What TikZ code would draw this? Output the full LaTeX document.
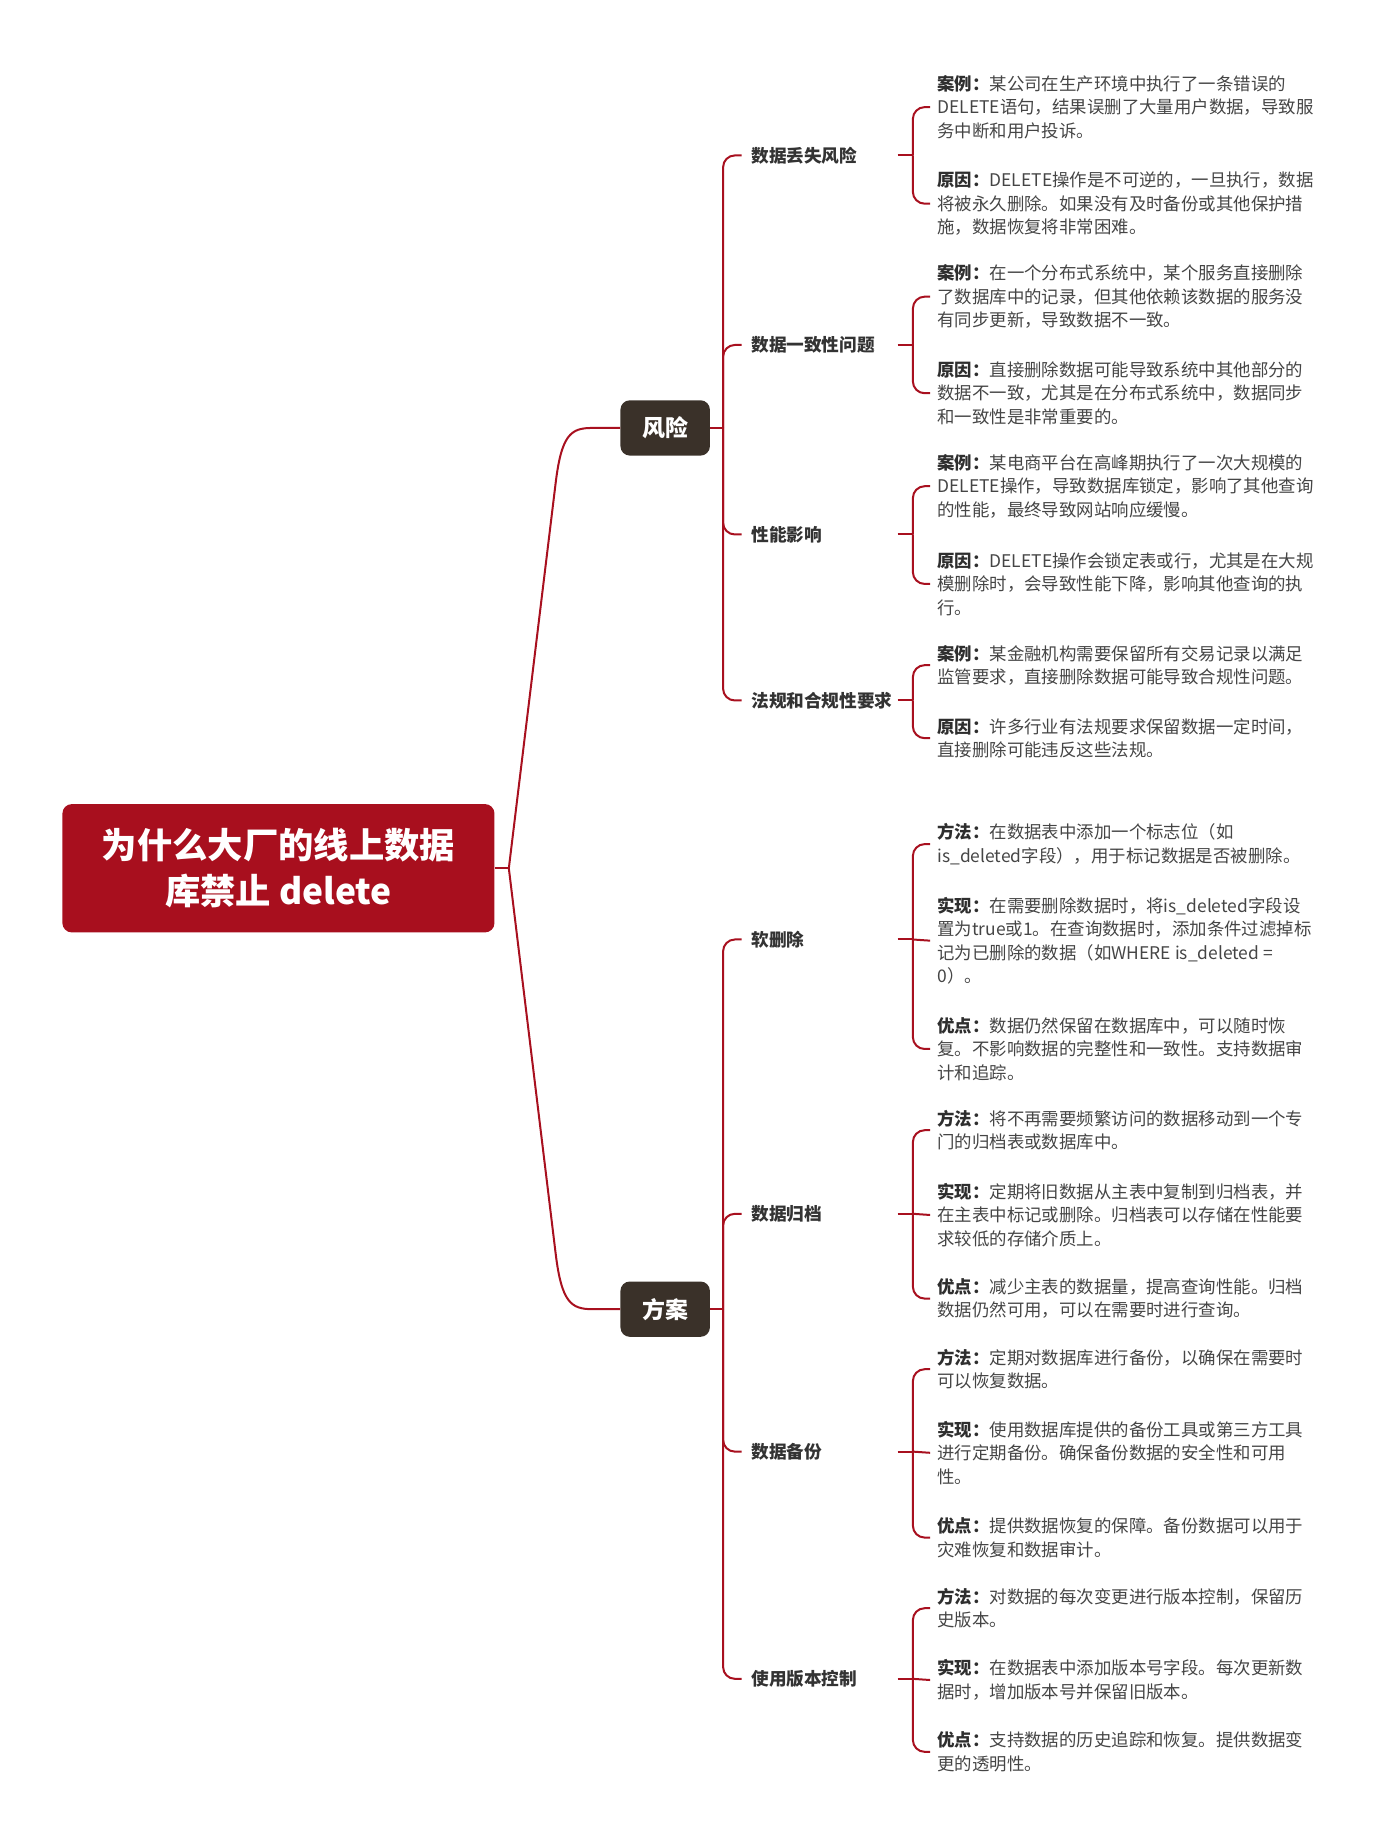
\documentclass[tikz,border=0pt]{standalone}
\usepackage{fontspec}
\setmainfont{Noto Sans CJK SC}
\usetikzlibrary{calc}
\definecolor{linered}{HTML}{A8101F}
\definecolor{rootred}{HTML}{A80F1E}
\definecolor{brdark}{HTML}{3A3129}
\definecolor{itemtxt}{HTML}{333333}
\definecolor{leaftxt}{HTML}{454545}
\definecolor{lbl}{HTML}{2E2E2E}
\newcommand\lb[1]{{\bfseries\color{lbl}#1}}
\tikzset{
  conn/.style={draw=linered, line width=1.7pt},
  bconn/.style={draw=linered, line width=1.7pt, rounded corners=10pt},
  rootbox/.style={fill=rootred, rounded corners=8pt, minimum width=367pt, minimum height=109pt, text=white, font=\bfseries\fontsize{30}{39}\selectfont, align=center, inner sep=0pt},
  branchbox/.style={fill=brdark, rounded corners=8pt, minimum width=76pt, minimum height=47pt, text=white, font=\bfseries\fontsize{19.5}{24}\selectfont, inner sep=0pt},
  itemlbl/.style={anchor=west, text=itemtxt, font=\bfseries\fontsize{15}{18}\selectfont, inner sep=0pt, text width=124pt, align=left},
  leaf/.style={anchor=west, text=leaftxt, font=\fontsize{14.8}{20}\selectfont, align=left, inner sep=0pt},
}
\begin{document}
\begin{tikzpicture}[x=1pt,y=-1pt]
\useasboundingbox (0,0) rectangle (1174,1568);
% root and branches
\node[rootbox] (root) at (236.5,737.5) {为什么大厂的线上数据\\库禁止 delete};
\node[branchbox] (risk) at (565,363.5) {风险};
\node[branchbox] (sol) at (565,1112) {方案};
\draw[conn] (root.east) -- ++(12,0) coordinate (rootj);
\draw[conn] (rootj) -- (472,410) .. controls (477,369) and (485,363.5) .. (503,363.5) -- (risk.west);
\draw[conn] (rootj) -- (472,1065) .. controls (477,1106) and (485,1112) .. (503,1112) -- (sol.west);
% risk items
\node[itemlbl] (r1) at (638,132) {数据丢失风险};
\node[itemlbl] (r2) at (638,293) {数据一致性问题};
\node[itemlbl] (r3) at (638,454) {性能影响};
\node[itemlbl] (r4) at (638,595) {法规和合规性要求};
\draw[conn] (risk.east) -- ++(11,0) coordinate (riskj);
\foreach \n in {r1,r2,r3,r4}{\draw[bconn] (riskj) |- ($(\n.west)+(-8,0)$);}
% solution items
\node[itemlbl] (s1) at (638,798) {软删除};
\node[itemlbl] (s2) at (638,1031) {数据归档};
\node[itemlbl] (s3) at (638,1233) {数据备份};
\node[itemlbl] (s4) at (638,1426) {使用版本控制};
\draw[conn] (sol.east) -- ++(11,0) coordinate (solj);
\foreach \n in {s1,s2,s3,s4}{\draw[bconn] (solj) |- ($(\n.west)+(-8,0)$);}
% risk leaves
\node[leaf] (r1a) at (796,91) {\lb{案例：}某公司在生产环境中执行了一条错误的\\DELETE语句，结果误删了大量用户数据，导致服\\务中断和用户投诉。};
\node[leaf] (r1b) at (796,173) {\lb{原因：}DELETE操作是不可逆的，一旦执行，数据\\将被永久删除。如果没有及时备份或其他保护措\\施，数据恢复将非常困难。};
\node[leaf] (r2a) at (796,252) {\lb{案例：}在一个分布式系统中，某个服务直接删除\\了数据库中的记录，但其他依赖该数据的服务没\\有同步更新，导致数据不一致。};
\node[leaf] (r2b) at (796,334) {\lb{原因：}直接删除数据可能导致系统中其他部分的\\数据不一致，尤其是在分布式系统中，数据同步\\和一致性是非常重要的。};
\node[leaf] (r3a) at (796,413) {\lb{案例：}某电商平台在高峰期执行了一次大规模的\\DELETE操作，导致数据库锁定，影响了其他查询\\的性能，最终导致网站响应缓慢。};
\node[leaf] (r3b) at (796,496) {\lb{原因：}DELETE操作会锁定表或行，尤其是在大规\\模删除时，会导致性能下降，影响其他查询的执\\行。};
\node[leaf] (r4a) at (796,565) {\lb{案例：}某金融机构需要保留所有交易记录以满足\\监管要求，直接删除数据可能导致合规性问题。};
\node[leaf] (r4b) at (796,627) {\lb{原因：}许多行业有法规要求保留数据一定时间，\\直接删除可能违反这些法规。};
% solution leaves
\node[leaf] (s1a) at (796,717) {\lb{方法：}在数据表中添加一个标志位（如\\is\_deleted字段），用于标记数据是否被删除。};
\node[leaf] (s1b) at (796,799) {\lb{实现：}在需要删除数据时，将is\_deleted字段设\\置为true或1。在查询数据时，添加条件过滤掉标\\记为已删除的数据（如WHERE is\_deleted =\\0）。};
\node[leaf] (s1c) at (796,891) {\lb{优点：}数据仍然保留在数据库中，可以随时恢\\复。不影响数据的完整性和一致性。支持数据审\\计和追踪。};
\node[leaf] (s2a) at (796,960) {\lb{方法：}将不再需要频繁访问的数据移动到一个专\\门的归档表或数据库中。};
\node[leaf] (s2b) at (796,1032) {\lb{实现：}定期将旧数据从主表中复制到归档表，并\\在主表中标记或删除。归档表可以存储在性能要\\求较低的存储介质上。};
\node[leaf] (s2c) at (796,1103) {\lb{优点：}减少主表的数据量，提高查询性能。归档\\数据仍然可用，可以在需要时进行查询。};
\node[leaf] (s3a) at (796,1163) {\lb{方法：}定期对数据库进行备份，以确保在需要时\\可以恢复数据。};
\node[leaf] (s3b) at (796,1234) {\lb{实现：}使用数据库提供的备份工具或第三方工具\\进行定期备份。确保备份数据的安全性和可用\\性。};
\node[leaf] (s3c) at (796,1306) {\lb{优点：}提供数据恢复的保障。备份数据可以用于\\灾难恢复和数据审计。};
\node[leaf] (s4a) at (796,1366) {\lb{方法：}对数据的每次变更进行版本控制，保留历\\史版本。};
\node[leaf] (s4b) at (796,1427) {\lb{实现：}在数据表中添加版本号字段。每次更新数\\据时，增加版本号并保留旧版本。};
\node[leaf] (s4c) at (796,1488) {\lb{优点：}支持数据的历史追踪和恢复。提供数据变\\更的透明性。};
% item -> leaf connectors
\foreach \i in {r1,r2,r3,r4}{
  \draw[conn] (\i.east) -- ++(13,0) coordinate (\i j);
  \draw[bconn] (\i j) |- ($(\i a.west)+(-6,0)$);
  \draw[bconn] (\i j) |- ($(\i b.west)+(-6,0)$);
}
\foreach \i in {s1,s2,s3,s4}{
  \draw[conn] (\i.east) -- ++(13,0) coordinate (\i j);
  \draw[bconn] (\i j) |- ($(\i a.west)+(-6,0)$);
  \draw[conn] (\i j) -- ($(\i b.west)+(-6,0)$);
  \draw[bconn] (\i j) |- ($(\i c.west)+(-6,0)$);
}
\end{tikzpicture}
\end{document}
